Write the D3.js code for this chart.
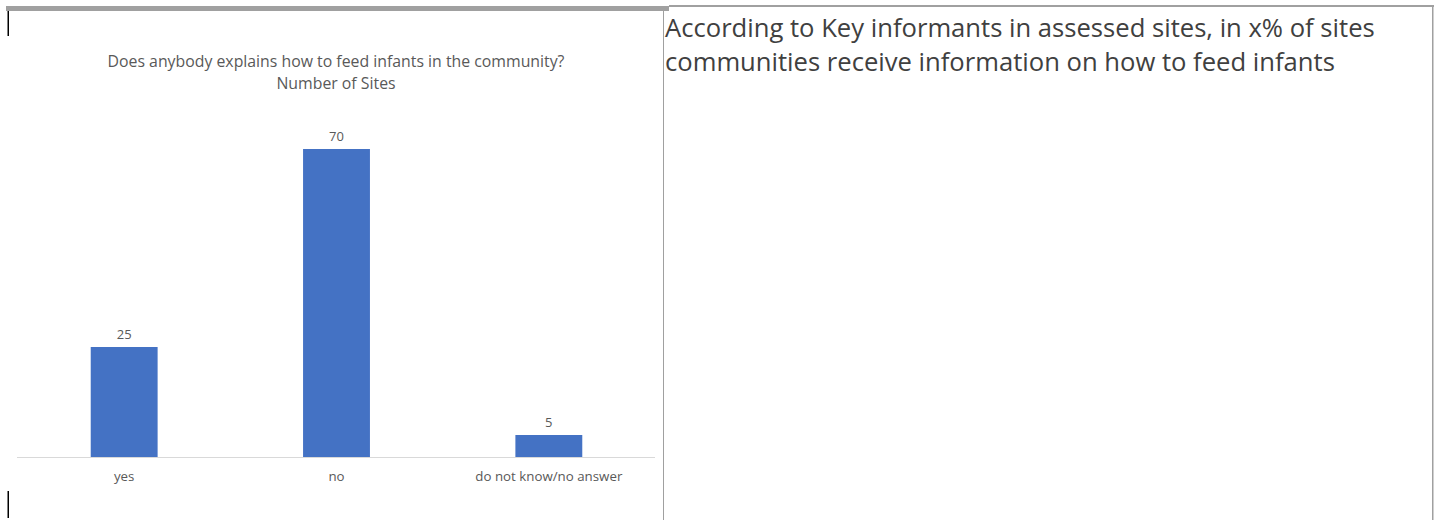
<!DOCTYPE html>
<html>
<head>
<meta charset="utf-8">
<script src="https://cdn.jsdelivr.net/npm/d3@7"></script>
<style>
  body { margin: 0; background: #fff; }
  svg { display: block; }
</style>
</head>
<body>
<svg id="page" width="1438" height="520"></svg>
<script>
// data
const categories = ["yes", "no", "do not know/no answer"];
const sites = [25, 70, 5];
const titleLines = ["Does anybody explains how to feed infants in the community?", "Number of Sites"];
const noteLines = [
  "According to Key informants in assessed sites, in x% of sites",
  "communities receive information on how to feed infants"
];

const svg = d3.select("#page");
const font = "'Open Sans', 'Noto Sans', sans-serif";

// table frame (document around the chart)
const frame = svg.append("g").attr("fill", "#a0a0a0");
frame.append("rect").attr("x", 6).attr("y", 6).attr("width", 663).attr("height", 5);
frame.append("rect").attr("x", 669).attr("y", 5).attr("width", 765).attr("height", 2);
frame.append("rect").attr("x", 663).attr("y", 10).attr("width", 1).attr("height", 510);
frame.append("rect").attr("x", 1432).attr("y", 5).attr("width", 1.5).attr("height", 515);

// text cursor marks on the left
svg.append("rect").attr("x", 7.5).attr("y", 11).attr("width", 1.5).attr("height", 25).attr("fill", "#000");
svg.append("rect").attr("x", 7.5).attr("y", 491).attr("width", 1.5).attr("height", 27).attr("fill", "#000");

// chart
const x = d3.scaleBand()
    .domain(categories)
    .range([18, 655])
    .paddingInner(0.685)
    .paddingOuter(0.3425);

const y = d3.scaleLinear()
    .domain([0, 70])
    .range([457, 149]);

const chart = svg.append("g");

const title = chart.append("g")
    .attr("font-family", font)
    .attr("font-size", 14)
    .attr("fill", "#595959")
    .attr("text-anchor", "middle")
  .selectAll("text")
  .data(titleLines)
  .join("text")
    .attr("x", 336)
    .attr("y", (d, i) => 67 + i * 22)
    .text(d => d);
// stretch the title to the width it has in the original
const tw = title.node().getComputedTextLength();
title.attr("font-size", 14 * 457 / tw);

chart.append("g")
  .selectAll("rect")
  .data(sites)
  .join("rect")
    .attr("x", (d, i) => x(categories[i]))
    .attr("y", d => y(d))
    .attr("width", x.bandwidth())
    .attr("height", d => y(0) - y(d))
    .attr("fill", "#4472c4");

chart.append("g")
    .attr("font-family", font)
    .attr("font-size", 13)
    .attr("fill", "#595959")
    .attr("text-anchor", "middle")
  .selectAll("text")
  .data(sites)
  .join("text")
    .attr("x", (d, i) => x(categories[i]) + x.bandwidth() / 2)
    .attr("y", d => y(d) - 8)
    .text(d => d);

const xAxis = chart.append("g")
    .attr("transform", `translate(0,${y(0)})`)
    .call(d3.axisBottom(x).tickSize(0).tickPadding(15));
xAxis.select(".domain").attr("stroke", "#d9d9d9").attr("d", "M17,0.5H655");
xAxis.selectAll("text")
    .attr("font-family", font)
    .attr("font-size", 13.3)
    .attr("fill", "#595959");

// note in the right cell
const note = svg.append("g")
    .attr("font-family", font)
    .attr("fill", "#404040");
const noteText = note.selectAll("text")
  .data(noteLines)
  .join("text")
    .attr("x", 665)
    .attr("y", (d, i) => 37 + i * 34)
    .attr("font-size", 24)
    .text(d => d);
const w = noteText.node().getComputedTextLength();
noteText.attr("font-size", 24 * 710 / w);
</script>
</body>
</html>
